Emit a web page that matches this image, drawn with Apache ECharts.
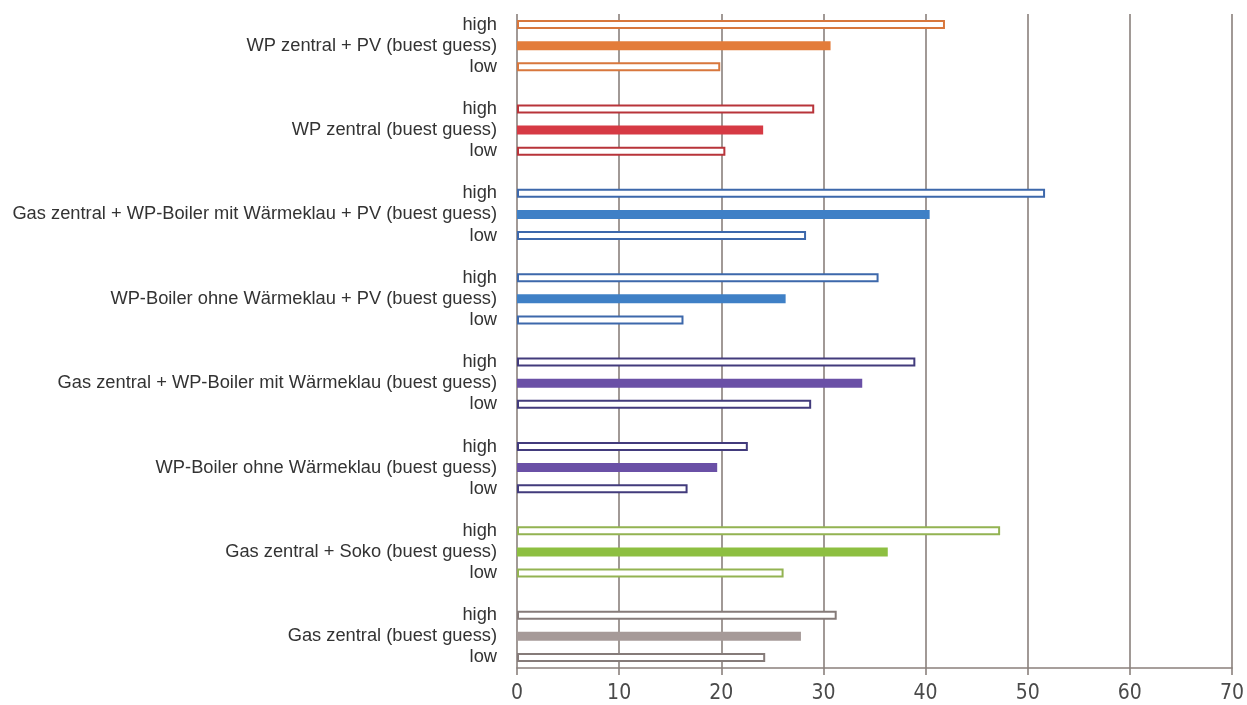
<!DOCTYPE html>
<html>
<head>
<meta charset="utf-8">
<script src="https://cdn.jsdelivr.net/npm/echarts@6/dist/echarts.min.js"></script>
<style>
  html, body { margin: 0; padding: 0; background: #ffffff; }
  #chart { width: 1247px; height: 705px; }
</style>
</head>
<body>
<div id="chart"></div>
<script>
// Scenario names (top to bottom)
const scenarios = [
  'WP zentral + PV (buest guess)',
  'WP zentral (buest guess)',
  'Gas zentral + WP-Boiler mit Wärmeklau + PV (buest guess)',
  'WP-Boiler ohne Wärmeklau + PV (buest guess)',
  'Gas zentral + WP-Boiler mit Wärmeklau (buest guess)',
  'WP-Boiler ohne Wärmeklau (buest guess)',
  'Gas zentral + Soko (buest guess)',
  'Gas zentral (buest guess)'
];
const highValues = [41.9, 29.1, 51.7, 35.4, 39.0, 22.6, 47.3, 31.3];
const bestValues = [30.7, 24.1, 40.4, 26.3, 33.8, 19.6, 36.3, 27.8];
const lowValues  = [19.9, 20.4, 28.3, 16.3, 28.8, 16.7, 26.1, 24.3];
const fillColors = ['#e37c3a', '#d63a44', '#3f80c6', '#3f80c6', '#6a50a6', '#6a50a6', '#8dbf41', '#a69a98'];
const lineColors = ['#d8773d', '#b8343a', '#3d68ab', '#3d68ab', '#423b7c', '#423b7c', '#93b352', '#857b79'];
const xTicks = { min: 0, max: 70, step: 10 };

// Build one row per bar, with an empty row between scenario groups
const categories = [];
const barData = [];
scenarios.forEach((name, i) => {
  const outline = { color: '#ffffff', borderColor: lineColors[i], borderWidth: 2 };
  const filled = { color: fillColors[i], borderWidth: 0 };
  categories.push('high');
  barData.push({ value: highValues[i], itemStyle: outline });
  categories.push(name);
  barData.push({ value: bestValues[i], itemStyle: filled });
  categories.push('low');
  barData.push({ value: lowValues[i], itemStyle: outline });
  if (i < scenarios.length - 1) {
    categories.push(' '.repeat(i + 1));
    barData.push({ value: '-' });
  }
});

const gridColor = '#8a807c';
const chart = echarts.init(document.getElementById('chart'), null, { renderer: 'canvas' });
chart.setOption({
  backgroundColor: '#ffffff',
  animation: false,
  grid: { left: 517, right: 13, top: 14, bottom: 37, containLabel: false },
  xAxis: {
    type: 'value',
    min: xTicks.min,
    max: xTicks.max,
    interval: xTicks.step,
    axisLine: { show: true, lineStyle: { color: gridColor, width: 1.6 } },
    axisTick: { show: true, length: 7, lineStyle: { color: gridColor, width: 1.6 } },
    splitLine: { show: true, lineStyle: { color: gridColor, width: 1.6 } },
    axisLabel: {
      margin: 15,
      color: '#4a4a4a',
      fontSize: 21,
      fontFamily: "'Liberation Sans Narrow', 'DejaVu Sans Condensed', sans-serif"
    }
  },
  yAxis: {
    type: 'category',
    inverse: true,
    data: categories,
    axisLine: { show: false },
    axisTick: { show: false },
    splitLine: { show: false },
    axisLabel: {
      margin: 20,
      color: '#333333',
      fontSize: 18.3,
      fontFamily: "'Liberation Sans', Arial, sans-serif",
      interval: 0
    }
  },
  series: [{
    type: 'bar',
    barWidth: 9,
    data: barData
  }]
});
</script>
</body>
</html>
